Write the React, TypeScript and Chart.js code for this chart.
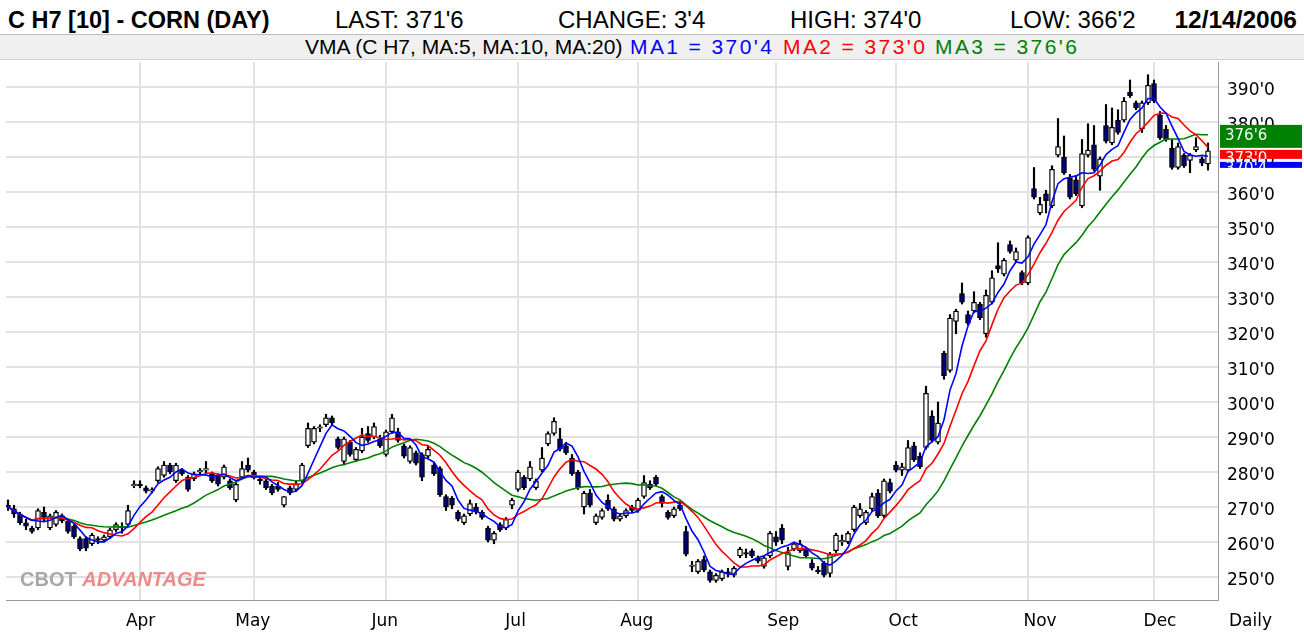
import React, { useEffect, useRef } from "react";
import { Chart, registerables } from "chart.js";

Chart.register(...registerables);

// ---- data ----
const monthLabels = ["Apr", "May", "Jun", "Jul", "Aug", "Sep", "Oct", "Nov", "Dec"];
const monthStartIndex = [22, 41, 63, 85, 105, 128, 148, 170, 191];
const monthLabelPos = [22.1, 40.8, 62.8, 84.6, 104.8, 129.2, 149.2, 172, 192];
const yTicks = [250, 260, 270, 280, 290, 300, 310, 320, 330, 340, 350, 360, 370, 380, 390];

const opens = [
  270.5, 269.5, 268, 265.5, 264, 264, 268.5, 264, 265, 267.5, 266, 264.5, 261, 261, 259.5, 261, 260.5, 261.5, 263.5, 264.5, 265, 276,
  276.5, 275.5, 274.5, 277.5, 279, 282, 277.5, 280.5, 278.5, 278, 280, 280.5, 279.5, 279, 278.5, 277.5, 272, 278.5, 282,
  280, 278, 277.5, 276, 276, 270.5, 275.5, 275, 277.5, 287.5, 288.5, 292.5, 293.5, 295.5, 289.5, 283, 288.5, 283.5, 286, 291, 290, 289.5,
  285, 291.5, 291.5, 287.5, 283, 285.5, 285, 284.5, 282, 281, 273, 272.5, 268.5, 265.5, 268, 270, 268.5, 264, 260.5, 265, 264, 270.5,
  275, 278.5, 278, 275.5, 280.5, 288, 291, 289.5, 287.5, 284, 280, 270, 274, 265.5, 267, 272, 269.5, 266.5, 267.5, 270,
  269, 273, 276.5, 278.5, 273, 268.5, 267.5, 270.5, 263, 253, 251.5, 255, 251.5, 249, 249.5, 251.5, 250.5, 256, 257, 257.5, 255.5, 253, 256,
  261.5, 264, 253, 258, 257.5, 258, 254, 252, 254, 251, 257.5, 260, 260, 263.5, 267.5, 265.5, 269.5, 274, 267.5, 277,
  282, 280.5, 280.5, 287.5, 284.5, 287, 296, 288.5, 314, 309, 323, 331, 325, 326, 328, 319.5, 328.5, 339, 336.5, 345, 340.5, 337,
  334, 361, 354, 359.5, 356, 370.5, 370, 364, 363.5, 356, 370.5, 373.5, 364.5, 379, 374, 380.5, 380.5, 388.5, 385.5, 378, 385.5,
  391, 382, 378, 372.5, 367, 370.5, 369, 372, 369.5, 368,
];
const highs = [
  272, 270.5, 268.5, 266.5, 264.5, 269.5, 270, 268, 269, 268, 266.5, 265, 261.5, 261.5, 262.5, 261.5, 262, 264, 265.5, 265.5, 270.5, 277.5,
  277.5, 276, 275.5, 281.5, 283, 282.5, 282.5, 281, 279, 280, 281, 283, 280, 279.5, 282, 278, 277, 283, 284,
  280.5, 278.5, 278, 276.5, 277, 273, 276, 277.5, 282.5, 294, 293, 293.5, 296.5, 296, 290, 290, 289, 287, 292.5, 293, 294, 290.5,
  292, 296.5, 292.5, 288, 287.5, 286, 285.5, 287.5, 282.5, 281.5, 273.5, 273, 269, 268, 272, 271, 269, 264.5, 263, 265.5, 267, 272.5,
  280.5, 279, 283, 278, 287, 291.5, 295.5, 292.5, 288.5, 285, 280.5, 274.5, 275, 268, 269.5, 273.5, 270, 268, 269.5, 270.5,
  272.5, 279, 277.5, 279, 273.5, 269, 270, 271.5, 264.5, 254.5, 255, 256, 252, 251, 252, 252.5, 253, 258.5, 258, 258, 256, 256, 263,
  263, 265, 258.5, 260, 260.5, 258.5, 255, 253, 254.5, 257, 262.5, 262, 263, 270.5, 271, 269, 274, 275, 278, 278,
  283, 282.5, 289, 288.5, 285.5, 304.5, 297.5, 300, 314.5, 325, 326.5, 334, 326, 331.5, 328.5, 332, 337.5, 345.5, 341, 346, 344, 337.5,
  347.5, 367, 358.5, 360.5, 367.5, 381, 376, 365, 364.5, 375, 379.5, 379, 370, 385, 384, 383.5, 387, 392, 386, 386, 393.5,
  392, 383, 379, 375, 374, 371, 371, 375.5, 370, 374,
];
const lows = [
  269, 267, 265, 263.5, 262.5, 263.5, 266, 263.5, 264.5, 265.5, 262.5, 261, 257.5, 257.5, 259, 259.5, 260, 261, 263, 262.5, 264.5, 275.5,
  275.5, 274, 274, 277, 278.5, 279.5, 277, 279, 274.5, 277.5, 279.5, 279.5, 277, 276, 278, 275, 271.5, 278, 280,
  278, 276.5, 275, 273.5, 274.5, 270, 273.5, 274.5, 277, 287, 288, 291.5, 293, 293.5, 286.5, 282, 284.5, 283, 285.5, 288.5, 289.5, 287,
  284.5, 291, 288.5, 284, 282.5, 282, 277.5, 284, 279, 273, 269, 269.5, 266, 265, 267.5, 268, 266.5, 260, 259.5, 263, 263.5, 269.5,
  274.5, 275, 277.5, 275, 280, 287.5, 290.5, 286, 285, 279, 275, 268, 270, 265, 266.5, 269, 266, 266, 267, 268.5,
  268.5, 272.5, 275, 276, 270, 266.5, 267, 269, 256, 251.5, 251, 251.5, 248.5, 248.5, 249, 250, 250, 255.5, 255.5, 255.5, 254, 252.5, 255.5,
  259, 259.5, 252, 257.5, 257, 255.5, 252, 251, 250, 250, 257, 259, 259.5, 263, 267, 265, 269, 267, 267, 274,
  280, 279, 280, 283, 281, 286.5, 288.5, 288, 306.5, 308.5, 319.5, 328, 322, 325.5, 323.5, 318.5, 328, 337, 336, 342.5, 340, 333.5,
  333.5, 358, 353.5, 354, 355.5, 370, 365, 358, 359, 355.5, 370, 366, 360.5, 374, 373.5, 376.5, 380, 387, 383.5, 377, 385,
  385.5, 375, 374.5, 366.5, 366.5, 367, 365.5, 371.5, 367.5, 366.25,
];
const closes = [
  270, 268, 265.5, 264.5, 263, 269, 267, 267.5, 268.5, 266, 263, 261.5, 258, 258.25, 262, 260.5, 261.5, 263.5, 265, 264, 269, 276.5,
  276, 274.5, 275, 281, 282, 280, 282, 279.5, 275, 279.5, 280.5, 281, 277.5, 276.5, 281.5, 275.5, 276.5, 281, 280.5,
  278.5, 277.5, 275.5, 274, 275, 273, 274, 276.5, 282, 292.5, 292.5, 292.75, 295.5, 294, 287, 289.5, 285, 286.5, 290, 289, 293, 287.5,
  291.5, 295.5, 289, 284.5, 287, 282.5, 278.5, 286.5, 279.5, 273.5, 270, 270.5, 266.5, 267.5, 271, 268.5, 267, 260.5, 262.5, 263.5, 266.5, 272,
  280, 275.5, 281.5, 277.5, 284, 291, 294.5, 286.5, 285.5, 279.5, 275.5, 274, 270.5, 267.5, 269, 269.5, 266.5, 267.5, 269, 269,
  272, 277, 275.5, 276.5, 271, 267, 269.5, 269.5, 256.5, 253.25, 254.5, 252, 249, 250.5, 251.5, 251, 252.5, 258, 256.5, 256, 254.5, 255.5, 262.5,
  260, 260.5, 257, 259.5, 259.5, 256, 252.5, 251.5, 250.5, 256.5, 262, 260.5, 262.5, 270, 269.5, 268.5, 273, 267.5, 277.5, 274.5,
  280.5, 281.5, 287, 283.5, 281.5, 302.5, 289, 294, 307.5, 324, 326, 328.5, 322.5, 328.5, 324, 330.5, 335.5, 338, 340.5, 343, 343, 334,
  347, 358.5, 356.5, 357.5, 366.5, 373, 365.5, 358.5, 359.5, 371, 372, 366.5, 369.5, 374.5, 378.5, 377, 386, 387.5, 384, 385.5, 390.5,
  386, 375.5, 375, 367, 373, 367.5, 370.5, 373, 368.25, 371.75,
];

// last values shown in the header / side boxes
const maPeriods = [5, 10, 20];
const maColors = ["#0000ff", "#ff0000", "#008000"];
const maLastValues = [370.5, 373, 376.75];
const maLastLabels = ["370'4", "373'0", "376'6"];

const FONT = "'DejaVu Sans', Verdana, sans-serif";
const HFONT = "'Liberation Sans', Arial, sans-serif";
const X_MIN = -1 / 3;
const X_MAX = 201 + 2 / 3;

function movingAverage(values: number[], n: number): number[] {
  return values.map((_, i) => {
    const s = Math.max(0, i - n + 1);
    const w = values.slice(s, i + 1);
    return w.reduce((a, b) => a + b, 0) / w.length;
  });
}

const valueBoxes = {
  id: "valueBoxes",
  afterDraw(chart: any) {
    const { ctx, chartArea, scales } = chart;
    const y = scales.y;
    const left = chartArea.right + 2;
    const width = chart.width - left - 2;
    const greenC = y.getPixelForValue(maLastValues[2]) + 3;
    const boxes = [
      { top: greenC - 11.5, h: 23, color: maColors[2], label: maLastLabels[2], textDy: 11.5 },
      { top: greenC + 13.5, h: 9, color: maColors[1], label: maLastLabels[1], textDy: 9 },
      { top: greenC + 25.5, h: 6, color: maColors[0], label: maLastLabels[0], textDy: 7 },
    ];
    ctx.save();
    for (const b of boxes) {
      ctx.save();
      ctx.fillStyle = b.color;
      ctx.fillRect(left, b.top, width, b.h);
      ctx.beginPath();
      ctx.rect(left, b.top, width, b.h);
      ctx.clip();
      ctx.fillStyle = "#f0fff0";
      ctx.font = `15px ${FONT}`;
      ctx.textBaseline = "middle";
      ctx.textAlign = "left";
      ctx.fillText(b.label, left + 5, b.top + b.textDy);
      ctx.restore();
    }
    ctx.restore();
  },
};

export default function App() {
  const canvasRef = useRef<HTMLCanvasElement | null>(null);

  useEffect(() => {
    document.body.style.margin = "0";
    const canvas = canvasRef.current;
    if (!canvas) return;

    const bodies = closes.map((c, i) => ({ x: i, y: [opens[i], c] }));
    const bodyColors = closes.map((c, i) => (c >= opens[i] ? "#ffffff" : "#000080"));
    const wicks = closes.map((_, i) => ({ x: i, y: [lows[i], highs[i]] }));
    const maSets = maPeriods.map((p, k) => ({
      type: "line" as const,
      label: `MA${k + 1}`,
      data: movingAverage(closes, p).map((v, i) => ({ x: i, y: v })),
      borderColor: maColors[k],
      borderWidth: 1.6,
      pointRadius: 0,
      tension: 0,
      order: 0,
    }));

    const chart = new Chart(canvas, {
      type: "bar",
      data: {
        datasets: [
          ...maSets,
          {
            type: "bar",
            label: "body",
            data: bodies as any,
            backgroundColor: bodyColors,
            borderColor: "#000000",
            borderWidth: 1.3,
            borderSkipped: false,
            barThickness: 5,
            minBarLength: 1.5,
            grouped: false,
            order: 1,
          } as any,
          {
            type: "bar",
            label: "wick",
            data: wicks as any,
            backgroundColor: "#000000",
            barThickness: 1.5,
            grouped: false,
            order: 2,
          } as any,
        ],
      },
      options: {
        animation: false,
        responsive: false,
        devicePixelRatio: 1,
        layout: { padding: { left: 6, top: 2, right: 0, bottom: 0 } },
        plugins: { legend: { display: false }, tooltip: { enabled: false } },
        scales: {
          x: {
            type: "linear",
            position: "bottom",
            min: X_MIN,
            max: X_MAX,
            offset: false,
            afterBuildTicks: (axis: any) => {
              axis.ticks = monthLabelPos.map((v) => ({ value: v }));
            },
            afterFit: (axis: any) => {
              axis.height = 32;
              axis.paddingLeft = 0;
              axis.paddingRight = 0;
            },
            ticks: {
              autoSkip: false,
              maxRotation: 0,
              padding: 11,
              color: "#000",
              font: { family: FONT, size: 17 },
              callback: (v: any, idx: number) => monthLabels[idx] ?? "",
            },
            grid: { display: false, drawTicks: false },
            border: { display: true, color: "#999999", width: 1 },
          },
          xGrid: {
            type: "linear",
            position: "bottom",
            min: X_MIN,
            max: X_MAX,
            offset: false,
            afterBuildTicks: (axis: any) => {
              axis.ticks = monthStartIndex.map((v) => ({ value: v }));
            },
            afterFit: (axis: any) => {
              axis.height = 0;
              axis.paddingLeft = 0;
              axis.paddingRight = 0;
            },
            ticks: { display: false },
            grid: { color: "#e2e2e2", lineWidth: 2, drawTicks: false, offset: false },
            border: { display: false },
          },
          y: {
            type: "linear",
            position: "right",
            min: 250 - 23 / 3.5,
            max: 390 + 25 / 3.5,
            afterBuildTicks: (axis: any) => {
              axis.ticks = yTicks.map((v) => ({ value: v }));
            },
            afterFit: (axis: any) => {
              axis.width = 86;
              axis.paddingTop = 0;
              axis.paddingBottom = 0;
            },
            ticks: {
              padding: 9,
              labelOffset: 4,
              color: "#000",
              font: { family: FONT, size: 17 },
              callback: (v: any) => `${v}'0`,
            },
            grid: { color: "#e2e2e2", lineWidth: 2, drawTicks: false, offset: false },
            border: { display: true, color: "#999999", width: 1 },
          },
        },
      },
      plugins: [valueBoxes],
    } as any);

    return () => chart.destroy();
  }, []);

  const row1: React.CSSProperties = { position: "absolute", top: 3, lineHeight: "34px", fontSize: 24, whiteSpace: "nowrap" };
  const row2: React.CSSProperties = { position: "absolute", top: 35, lineHeight: "24px", fontSize: 21, whiteSpace: "nowrap" };
  const maText: React.CSSProperties = { ...row2, letterSpacing: 2.4 };

  return (
    <div style={{ position: "relative", width: 1304, height: 632, background: "#fff", overflow: "hidden", fontFamily: HFONT, color: "#000" }}>
      <div style={{ position: "absolute", left: 0, top: 0, width: 1304, height: 34, borderBottom: "1px solid #bdbdbd" }} />
      <div style={{ position: "absolute", left: 0, top: 35, width: 1304, height: 24, background: "#f0f0f0", borderBottom: "1px solid #d0d0d0" }} />
      <span style={{ ...row1, left: 8, fontWeight: "bold", fontSize: 23.5 }}>C H7 [10] - CORN (DAY)</span>
      <span style={{ ...row1, left: 335 }}>LAST: 371'6</span>
      <span style={{ ...row1, left: 558 }}>CHANGE: 3'4</span>
      <span style={{ ...row1, left: 790 }}>HIGH: 374'0</span>
      <span style={{ ...row1, left: 1010 }}>LOW: 366'2</span>
      <span style={{ ...row1, right: 7, fontWeight: "bold", fontSize: 24.5 }}>12/14/2006</span>
      <span style={{ ...row2, left: 305 }}>VMA (C H7, MA:5, MA:10, MA:20)</span>
      <span style={{ ...maText, left: 630, color: "#0000ff" }}>MA1 = 370'4</span>
      <span style={{ ...maText, left: 783, color: "#ff0000" }}>MA2 = 373'0</span>
      <span style={{ ...maText, left: 935, color: "#008000" }}>MA3 = 376'6</span>
      <canvas ref={canvasRef} width={1304} height={572} style={{ position: "absolute", left: 0, top: 60 }} />
      <span style={{ position: "absolute", left: 20, top: 568, fontSize: 20, fontWeight: "bold", lineHeight: "22px", whiteSpace: "nowrap" }}>
        <span style={{ color: "#a8a8a8" }}>CBOT </span>
        <span style={{ color: "#ee8a8a", fontStyle: "italic" }}>ADVANTAGE</span>
      </span>
      <span style={{ position: "absolute", left: 1229, top: 608, fontSize: 17, fontFamily: FONT, lineHeight: "24px" }}>Daily</span>
    </div>
  );
}
